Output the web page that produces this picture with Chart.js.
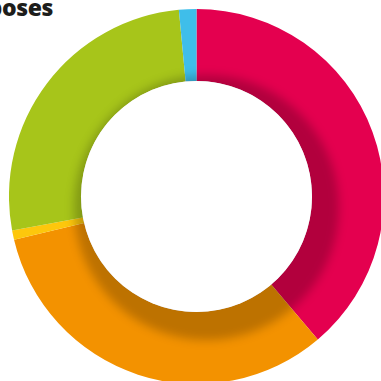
<!DOCTYPE html>
<html>
<head>
<meta charset="utf-8"/>
<style>
  html,body{margin:0;padding:0;background:#fff;overflow:hidden;width:381px;height:381px;}
  .title{position:absolute;right:calc(381px - 53px);top:-9px;font:800 23px "Open Sans",sans-serif;color:#1d1d1b;white-space:nowrap;letter-spacing:-0.4px;}
  .wrap{position:absolute;left:9px;top:9px;width:375px;height:375px;}
</style>
</head>
<body>
<div class="title">Purposes</div>
<div class="wrap"><canvas id="c"></canvas></div>
<script src="https://cdn.jsdelivr.net/npm/chart.js@4.4.0/dist/chart.umd.min.js"></script>
<script>
  const purposes = ['Business','Leisure','Study','Visiting friends & family','Other'];
  const shares   = [38.8, 32.5, 0.8, 26.4, 1.5];
  const colors   = ['#E4004F','#F39200','#FDC70C','#A7C51A','#3FBEEA'];

  // white hole casting a soft shadow down-right onto the ring
  const holeShadow = {
    id:'holeShadow',
    afterDatasetsDraw(chart){
      const arc = chart.getDatasetMeta(0).data[0];
      const {x, y, innerRadius, outerRadius} = arc.getProps(['x','y','innerRadius','outerRadius'], true);
      const ctx = chart.ctx;
      ctx.save();
      ctx.beginPath();
      ctx.arc(x, y, outerRadius, 0, Math.PI*2);
      ctx.clip();
      ctx.filter = 'blur(5px)';
      ctx.fillStyle = 'rgba(0,0,0,0.22)';
      ctx.beginPath();
      ctx.arc(x + 10, y + 11, innerRadius + 17, 0, Math.PI*2);
      ctx.fill();
      ctx.filter = 'none';
      ctx.fillStyle = '#fff';
      ctx.beginPath();
      ctx.arc(x, y, innerRadius, 0, Math.PI*2);
      ctx.fill();
      ctx.restore();
    }
  };

  new Chart(document.getElementById('c'), {
    type:'doughnut',
    data:{
      labels: purposes,
      datasets:[{ data: shares, backgroundColor: colors, borderWidth:0, hoverOffset:0 }]
    },
    options:{
      responsive:true, maintainAspectRatio:false, animation:false,
      cutout:'61.6%',
      layout:{ padding:0 },
      plugins:{ legend:{display:false}, tooltip:{enabled:false} }
    },
    plugins:[holeShadow]
  });
</script>
</body>
</html>
